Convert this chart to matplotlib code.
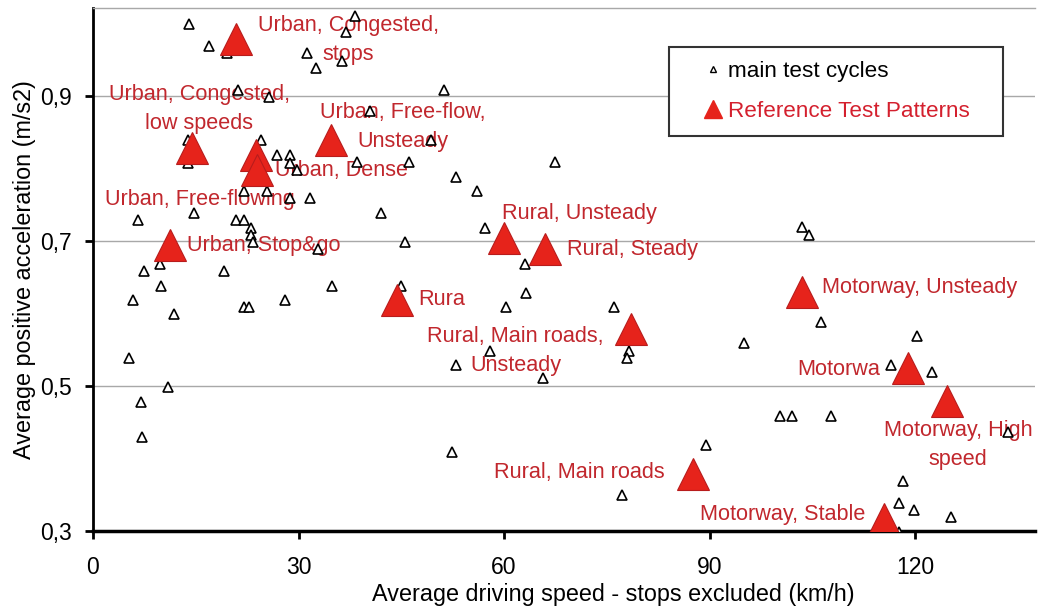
import matplotlib
matplotlib.use("Agg")
import matplotlib.pyplot as plt
from matplotlib.lines import Line2D

plt.rcParams['font.family'] = ['Liberation Sans', 'DejaVu Sans']

# main test cycles (speed km/h, positive acceleration m/s2)
cycle_speed = [14.0, 16.9, 19.5, 38.3, 36.9, 31.3, 36.4, 32.6, 21.1, 25.7, 40.4, 49.3, 24.5,
               13.8, 13.9, 26.8, 28.7, 28.8, 29.8, 38.5, 46.2, 67.4, 53.0, 56.1, 51.2,
               22.0, 25.4, 28.7, 31.7, 14.8, 42.1, 6.5, 20.9, 22.0, 23.0, 23.1, 23.4, 32.8,
               45.5, 9.8, 7.4, 19.1, 10.0, 34.9, 44.9, 5.8, 28.1, 22.1, 22.8, 11.8, 5.3,
               10.9, 7.0, 7.2,
               57.2, 63.0, 63.2, 60.3, 76.1, 58.0, 53.0, 65.7, 78.3, 77.9, 95.1,
               52.4, 89.5, 77.2,
               103.5, 104.5, 106.2, 120.3, 116.5, 122.4,
               100.3, 102.0, 107.7, 133.5, 118.3, 117.6, 119.8, 125.2, 117.7]
cycle_accel = [1.000, 0.969, 0.960, 1.010, 0.989, 0.960, 0.948, 0.939, 0.909, 0.899, 0.879, 0.839, 0.839,
               0.839, 0.808, 0.819, 0.819, 0.807, 0.798, 0.809, 0.809, 0.809, 0.789, 0.769, 0.909,
               0.769, 0.769, 0.759, 0.759, 0.739, 0.739, 0.729, 0.729, 0.729, 0.718, 0.709, 0.699, 0.689,
               0.699, 0.669, 0.659, 0.659, 0.638, 0.638, 0.638, 0.619, 0.619, 0.609, 0.609, 0.599, 0.538,
               0.499, 0.478, 0.429,
               0.718, 0.668, 0.629, 0.609, 0.609, 0.549, 0.529, 0.511, 0.549, 0.538, 0.559,
               0.409, 0.419, 0.349,
               0.719, 0.709, 0.589, 0.569, 0.529, 0.519,
               0.459, 0.459, 0.459, 0.437, 0.369, 0.339, 0.329, 0.319, 0.298]

# reference test patterns
ref_speed = [20.9, 14.5, 23.8, 24.0, 34.7, 11.2, 44.4, 60.0, 66.0, 78.5, 87.6, 103.5, 118.9, 124.6, 115.4]
ref_accel = [0.979, 0.829, 0.819, 0.798, 0.839, 0.695, 0.619, 0.704, 0.689, 0.579, 0.379, 0.630, 0.525, 0.480, 0.316]

labels = ["Urban, Congested,\nstops", "Urban, Congested,\nlow speeds", "Urban, Free-flow,\nUnsteady",
          "Urban, Dense", "Urban, Free-flowing", "Urban, Stop&go", "Rural, Unsteady", "Rural, Steady",
          "Rura", "Rural, Main roads,\nUnsteady", "Rural, Main roads", "Motorway, Unsteady",
          "Motorwa", "Motorway, High\nspeed", "Motorway, Stable"]
# label anchor (x, y, horizontal alignment)
label_pos = [(37.3, 0.977, 'center'), (15.5, 0.882, 'center'), (45.2, 0.858, 'center'),
             (26.6, 0.798, 'left'), (15.6, 0.757, 'center'), (13.7, 0.694, 'left'),
             (59.75, 0.738, 'left'), (69.15, 0.689, 'left'), (47.5, 0.619, 'left'),
             (61.7, 0.549, 'center'), (83.4, 0.381, 'right'), (106.4, 0.636, 'left'),
             (114.96, 0.523, 'right'), (126.25, 0.418, 'center'), (112.7, 0.323, 'right')]

yticks = [0.3, 0.5, 0.7, 0.9]
ytick_labels = ["0,3", "0,5", "0,7", "0,9"]
xticks = [0, 30, 60, 90, 120]

text_red = '#c1272d'

fig = plt.figure(figsize=(10.39, 6.07), dpi=100)
ax = fig.add_axes([0.0895, 0.1252, 0.9066, 0.861])

for lab, (x, y, ha) in zip(labels, label_pos):
    ax.text(x, y, lab, color=text_red, fontsize=15.6, ha=ha, va='center',
            multialignment='center', linespacing=1.5, zorder=2)

ax.plot(cycle_speed, cycle_accel, linestyle='none', marker='^', markersize=6.5,
        markerfacecolor='white', markeredgecolor='black', markeredgewidth=1.2, zorder=3)
ax.plot(ref_speed, ref_accel, linestyle='none', marker='^', markersize=22.5,
        markerfacecolor='#e6231b', markeredgecolor='#b81c1c', markeredgewidth=0.8, zorder=4)

ax.set_xlim(0, 137.5)
ax.set_ylim(0.3, 1.021)
ax.set_xticks(xticks)
ax.set_yticks(yticks)
ax.set_yticklabels(ytick_labels)
ax.tick_params(labelsize=16.5, length=6, width=2, direction='out', color='black')
ax.tick_params(axis='y', pad=9)
ax.tick_params(axis='x', pad=12)
ax.yaxis.grid(True, color='#a8a8a8', linewidth=1)
ax.set_axisbelow(True)

ax.spines['right'].set_visible(False)
ax.spines['top'].set_color('#a8a8a8')
ax.spines['top'].set_linewidth(1)
ax.spines['left'].set_linewidth(2)
ax.spines['bottom'].set_linewidth(2.5)

ax.set_xlabel("Average driving speed - stops excluded (km/h)", fontsize=16.8)
ax.xaxis.set_label_coords(0.552, -0.1)
ax.set_ylabel("Average positive acceleration (m/s2)", fontsize=16.8, labelpad=3)

handles = [Line2D([], [], linestyle='none', marker='^', markersize=5, markerfacecolor='white',
                  markeredgecolor='black', markeredgewidth=1),
           Line2D([], [], linestyle='none', marker='^', markersize=13, markerfacecolor='#e6231b',
                  markeredgecolor='#e6231b')]
leg = ax.legend(handles, ["main test cycles", "Reference Test Patterns"], loc='upper left',
                bbox_to_anchor=(0.6115, 0.7579, 0.3546, 0.1684), mode='expand',
                fontsize=16.2, borderpad=0.62, labelspacing=0.84, handlelength=2.67,
                handletextpad=-0.67, borderaxespad=0, fancybox=False, framealpha=1)
leg.get_frame().set_edgecolor('#333333')
leg.get_frame().set_linewidth(1.5)
leg.get_texts()[1].set_color('#d4202e')
leg.set_zorder(5)

fig.savefig("out.png", dpi=100)
